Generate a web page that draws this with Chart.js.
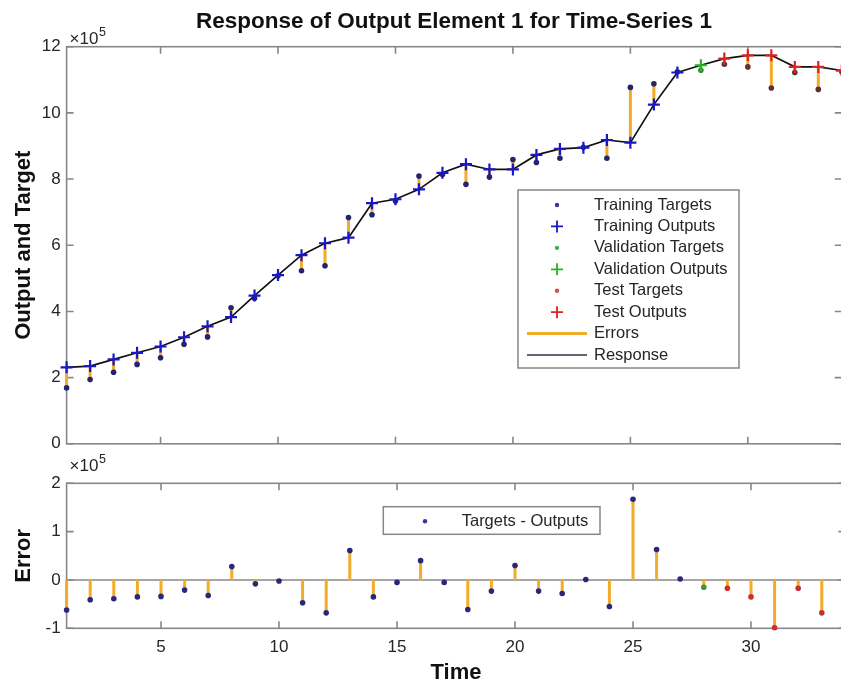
<!DOCTYPE html>
<html>
<head>
<meta charset="utf-8">
<script src="https://cdn.jsdelivr.net/npm/chart.js@4.4.1/dist/chart.umd.min.js"></script>
<style>
  html, body { margin: 0; padding: 0; background: #fff; overflow: hidden; }
  #wrap { position: relative; width: 841px; height: 686px; overflow: hidden; }
  canvas { position: absolute; left: 0; }
  #top { top: 0; }
  #bottom { top: 440px; }
</style>
</head>
<body>
<div id="wrap">
  <canvas id="top" width="850" height="460"></canvas>
  <canvas id="bottom" width="850" height="246"></canvas>
</div>
<script>
// time steps and network response
var timeSteps = [1, 2, 3, 4, 5, 6, 7, 8, 9, 10, 11, 12, 13, 14, 15, 16, 17,
                 18, 19, 20, 21, 22, 23, 24, 25, 26, 27, 28, 29, 30, 31, 32, 33, 34];
var targets = [169000, 194000, 216000, 240000, 260000, 301000, 323000, 411000, 440000, 508000,
               523000, 538000, 684000, 692000, 734000, 809000, 814000, 784000, 806000, 859000,
               850000, 863000, 896000, 863000, 1077000, 1088000, 1124000, 1129000, 1147000, 1139000,
               1075000, 1122000, 1071000, 1124000];
var outputs = [231000, 235000, 255000, 275000, 294000, 322000, 355000, 383000, 448000, 510000,
               570000, 606000, 623000, 727000, 739000, 769000, 819000, 845000, 829000, 829000,
               873000, 891000, 895000, 918000, 910000, 1025000, 1122000, 1144000, 1164000, 1174000,
               1174000, 1139000, 1139000, 1128000];
var validationSteps = [28];
var testSteps = [29, 30, 31, 32, 33, 34];

var timeTicks = [5, 10, 15, 20, 25, 30];
var outputTicks = [0, 2, 4, 6, 8, 10, 12];   // x 10^5
var errorTicks = [-1, 0, 1, 2];              // x 10^5

var FONT = "'Liberation Sans', Arial, Helvetica, sans-serif";
var TEXT = '#262626';
var FRAME = '#878787';
var ORANGE = '#f2ab2b';
var COLORS = {
  train: { plus: '#1818c4', dot: '#24246e', err: '#28287a', key: '#3434a8' },
  val:   { plus: '#22b822', dot: '#3a8a3a', err: '#3c963c', key: '#44b044' },
  test:  { plus: '#dc2424', dot: '#603030', err: '#c83030', key: '#d05050' }
};

var errors = targets.map(function (v, i) { return v - outputs[i]; });

function setOf(t) {
  if (validationSteps.indexOf(t) >= 0) return 'val';
  if (testSteps.indexOf(t) >= 0) return 'test';
  return 'train';
}

function pointsOf(values, set) {
  return timeSteps.filter(function (t) { return setOf(t) === set; })
    .map(function (t) { return { x: t, y: values[t - 1] }; });
}

// vertical segments from a[i] to b[i], separated by gaps
function stems(a, b) {
  var out = [];
  timeSteps.forEach(function (t, i) {
    if (i >= a.length) return;
    out.push({ x: t, y: a[i] }, { x: t, y: b[i] }, { x: t, y: null });
  });
  return out;
}

function markers(data, color, style, radius) {
  return {
    data: data, showLine: false, clip: false,
    pointStyle: style, pointRadius: radius, pointHoverRadius: radius,
    pointBackgroundColor: color, pointBorderColor: color,
    pointBorderWidth: style === 'cross' ? 2.2 : 0
  };
}

function segments(data, color, width) {
  return {
    data: data, showLine: true, spanGaps: false, clip: false,
    borderColor: color, borderWidth: width, pointRadius: 0, pointHoverRadius: 0
  };
}

function drawLegend(ctx, box, rows) {
  ctx.save();
  ctx.fillStyle = '#fff';
  ctx.fillRect(box.x, box.y, box.w, box.h);
  ctx.strokeStyle = FRAME;
  ctx.lineWidth = 1.5;
  ctx.strokeRect(box.x, box.y, box.w, box.h);
  ctx.font = '16.5px ' + FONT;
  ctx.textBaseline = 'middle';
  ctx.textAlign = 'left';
  rows.forEach(function (r, i) {
    var y = box.firstRow + i * box.rowStep;
    if (r.kind === 'dot') {
      ctx.fillStyle = r.color;
      ctx.beginPath(); ctx.arc(box.keyX, y, 2.2, 0, Math.PI * 2); ctx.fill();
    } else if (r.kind === 'plus') {
      ctx.strokeStyle = r.color; ctx.lineWidth = 1.8;
      ctx.beginPath();
      ctx.moveTo(box.keyX - 6, y); ctx.lineTo(box.keyX + 6, y);
      ctx.moveTo(box.keyX, y - 6); ctx.lineTo(box.keyX, y + 6);
      ctx.stroke();
    } else {
      ctx.strokeStyle = r.color; ctx.lineWidth = r.width;
      ctx.beginPath();
      ctx.moveTo(box.lineFrom, y); ctx.lineTo(box.lineTo, y);
      ctx.stroke();
    }
    ctx.fillStyle = TEXT;
    ctx.fillText(r.label, box.textX, y);
  });
  ctx.restore();
}

function drawExponent(ctx, x, baseline) {
  ctx.save();
  ctx.fillStyle = TEXT;
  ctx.textBaseline = 'alphabetic';
  ctx.textAlign = 'left';
  ctx.font = '17px ' + FONT;
  ctx.fillText('\u00d710', x, baseline);
  var w = ctx.measureText('\u00d710').width;
  ctx.font = '12.5px ' + FONT;
  ctx.fillText('5', x + w + 0.5, baseline - 8);
  ctx.restore();
}

// MATLAB-style box with inward ticks on all four sides
var boxAxes = {
  id: 'boxAxes',
  beforeDatasetsDraw: function (chart, args, opts) {
    var a = chart.chartArea, ctx = chart.ctx;
    var xs = chart.scales.x, ys = chart.scales.y;
    ctx.save();
    ctx.strokeStyle = FRAME;
    ctx.lineWidth = 1.6;
    if (opts.zeroLine) {
      var y0 = ys.getPixelForValue(0);
      ctx.beginPath(); ctx.moveTo(a.left, y0); ctx.lineTo(a.right, y0); ctx.stroke();
    }
    ctx.strokeRect(a.left, a.top, a.right - a.left, a.bottom - a.top);
    var len = 7;
    ctx.beginPath();
    xs.ticks.forEach(function (t) {
      var x = xs.getPixelForValue(t.value);
      ctx.moveTo(x, a.bottom); ctx.lineTo(x, a.bottom - len);
      ctx.moveTo(x, a.top); ctx.lineTo(x, a.top + len);
    });
    ys.ticks.forEach(function (t) {
      var y = ys.getPixelForValue(t.value);
      ctx.moveTo(a.left, y); ctx.lineTo(a.left + len, y);
      ctx.moveTo(a.right, y); ctx.lineTo(a.right - len, y);
    });
    ctx.stroke();
    ctx.restore();
  },
  afterDraw: function (chart, args, opts) {
    var ctx = chart.ctx, a = chart.chartArea;
    drawExponent(ctx, a.left + 3, opts.expBaseline);
    if (opts.title) {
      ctx.save();
      ctx.fillStyle = '#111';
      ctx.font = 'bold 22.5px ' + FONT;
      ctx.textAlign = 'center';
      ctx.textBaseline = 'middle';
      ctx.fillText(opts.title, opts.titleX, opts.titleY);
      ctx.restore();
    }
    if (opts.legend) drawLegend(ctx, opts.legend.box, opts.legend.rows);
  }
};

function xScale(showLabels, height) {
  return {
    type: 'linear', min: 1, max: 34,
    afterBuildTicks: function (s) { s.ticks = timeTicks.map(function (v) { return { value: v }; }); },
    afterFit: function (s) { s.height = height; },
    grid: { display: false, drawTicks: false },
    border: { display: false },
    ticks: {
      display: showLabels, padding: 9, autoSkip: false, maxRotation: 0,
      color: TEXT, font: { family: FONT, size: 17 }
    },
    title: {
      display: showLabels, text: 'Time', color: '#111',
      font: { family: FONT, size: 22, weight: 'bold', lineHeight: 1.2 },
      padding: { top: 0, bottom: 0 }
    }
  };
}

function yScale(title, min, max, tickValues) {
  return {
    type: 'linear', min: min, max: max,
    afterBuildTicks: function (s) { s.ticks = tickValues.map(function (v) { return { value: v * 1e5 }; }); },
    afterFit: function (s) { s.width = 66.6; },
    grid: { display: false, drawTicks: false },
    border: { display: false },
    ticks: {
      padding: 6, color: TEXT, font: { family: FONT, size: 17 },
      callback: function (v) { return String(Math.round(v / 1e5)); }
    },
    title: {
      display: true, text: title, color: '#111',
      font: { family: FONT, size: 22, weight: 'bold', lineHeight: 1.2 },
      padding: { top: 11, bottom: 0 }
    }
  };
}

Chart.defaults.animation = false;
Chart.defaults.events = [];

var topRows = [
  { label: 'Training Targets', kind: 'dot', color: COLORS.train.key },
  { label: 'Training Outputs', kind: 'plus', color: COLORS.train.plus },
  { label: 'Validation Targets', kind: 'dot', color: COLORS.val.key },
  { label: 'Validation Outputs', kind: 'plus', color: COLORS.val.plus },
  { label: 'Test Targets', kind: 'dot', color: COLORS.test.key },
  { label: 'Test Outputs', kind: 'plus', color: COLORS.test.plus },
  { label: 'Errors', kind: 'line', color: ORANGE, width: 3 },
  { label: 'Response', kind: 'line', color: '#303040', width: 1.6 }
];

new Chart(document.getElementById('top'), {
  type: 'scatter',
  data: {
    datasets: [
      markers(pointsOf(outputs, 'train'), COLORS.train.plus, 'cross', 6),
      markers(pointsOf(outputs, 'val'), COLORS.val.plus, 'cross', 6),
      markers(pointsOf(outputs, 'test'), COLORS.test.plus, 'cross', 6),
      markers(pointsOf(targets, 'train'), COLORS.train.dot, 'circle', 2.8),
      markers(pointsOf(targets, 'val'), COLORS.val.dot, 'circle', 2.8),
      markers(pointsOf(targets, 'test'), COLORS.test.dot, 'circle', 2.8),
      segments(timeSteps.map(function (t, i) { return { x: t, y: outputs[i] }; }), '#111', 1.7),
      segments(stems(targets, outputs), ORANGE, 3)
    ]
  },
  options: {
    responsive: false,
    layout: { padding: { top: 46.7, right: 4.6, left: 0, bottom: 0 } },
    scales: {
      x: xScale(false, 6.5),
      y: yScale('Output and Target', 0, 1200000, outputTicks)
    },
    plugins: {
      legend: { display: false },
      tooltip: { enabled: false },
      boxAxes: {
        expBaseline: 44,
        title: 'Response of Output Element 1 for Time-Series 1', titleX: 454, titleY: 22,
        legend: {
          box: { x: 518, y: 190, w: 221, h: 178, firstRow: 205, rowStep: 21.43,
                 keyX: 557, lineFrom: 527, lineTo: 587, textX: 594 },
          rows: topRows
        }
      }
    }
  },
  plugins: [boxAxes]
});

new Chart(document.getElementById('bottom'), {
  type: 'scatter',
  data: {
    datasets: [
      markers(pointsOf(errors, 'train'), COLORS.train.err, 'circle', 2.8),
      markers(pointsOf(errors, 'val'), COLORS.val.err, 'circle', 2.8),
      markers(pointsOf(errors, 'test'), COLORS.test.err, 'circle', 2.8),
      segments(stems(errors.map(function () { return 0; }), errors), ORANGE, 3)
    ]
  },
  options: {
    responsive: false,
    layout: { padding: { top: 43.3, right: 4.6, left: 0, bottom: 0 } },
    scales: {
      x: xScale(true, 57.7),
      y: yScale('Error', -100000, 200000, errorTicks)
    },
    plugins: {
      legend: { display: false },
      tooltip: { enabled: false },
      boxAxes: {
        zeroLine: true,
        expBaseline: 30.5,
        legend: {
          box: { x: 383.3, y: 66.7, w: 216.7, h: 27.6, firstRow: 81.2, rowStep: 0,
                 keyX: 425, lineFrom: 0, lineTo: 0, textX: 461.7 },
          rows: [{ label: 'Targets - Outputs', kind: 'dot', color: COLORS.train.key }]
        }
      }
    }
  },
  plugins: [boxAxes]
});
</script>
</body>
</html>
